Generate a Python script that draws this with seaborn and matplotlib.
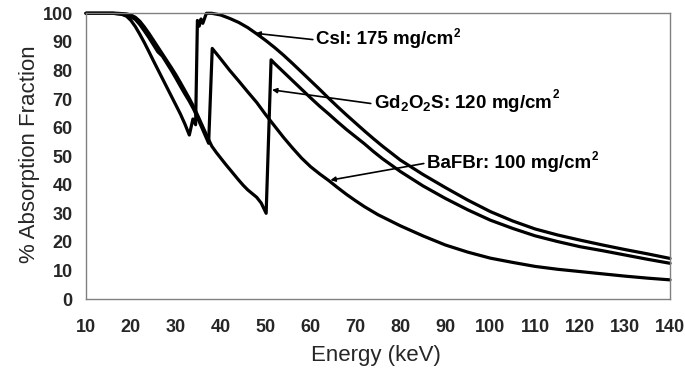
import matplotlib
matplotlib.use("Agg")
import matplotlib.pyplot as plt
import seaborn as sns
import pandas as pd

# ---------------- data ----------------
csi_energy = [10, 16, 18, 19, 20, 21, 22, 23, 24, 25, 26, 27, 28, 29, 30, 31, 32, 33.0,
              33.8, 34.4, 34.8, 35.2, 35.6, 36.0, 36.8, 38, 40, 42, 44, 46, 48, 50, 52, 54,
              56, 58, 60, 62, 64, 66, 68, 70, 72, 74, 76, 80, 85, 90, 95, 100, 105, 110,
              115, 120, 125, 130, 135, 140]
csi_value = [100, 100, 99.6, 99, 97.5, 95.3, 92.6, 89.7, 86.6, 83.4, 80.3, 77.2, 74.1, 71,
             67.9, 64.8, 61.3, 57.4,
             63, 61, 97.5, 95.5, 98, 96.5, 100, 100, 99.4, 98.2, 96.8, 95, 92.8, 90.5, 88,
             85.3, 82.4, 79.4, 76.4, 73.4, 70.3, 67.3, 64.4, 61.6, 58.8, 56.1, 53.5, 48.6,
             43.6, 39, 34.6, 30.6, 27.3, 24.5, 22.4, 20.6, 18.9, 17.3, 15.8, 14.2]

gd_energy = [10, 17, 19, 20, 21, 22, 23, 24, 25, 26, 27, 28, 29, 30, 31, 32, 33, 34, 35,
             36, 37, 38, 39, 40, 41, 42, 43, 44, 45, 46, 47, 48, 49, 50.1,
             51.2, 52, 54, 56, 58, 60, 62, 64, 66, 68, 70, 72, 74, 76, 80, 85, 90, 95,
             100, 105, 110, 115, 120, 125, 130, 135, 140]
gd_value = [100, 100, 99.8, 99.4, 98.6, 97.2, 95.2, 93, 90.6, 88.2, 85.8, 83.4, 81, 78.5,
            75.8, 73, 70.2, 67.2, 63.8, 60.3, 56.8, 53.5, 51.3, 49.3, 47.3, 45.4, 43.5,
            41.6, 39.8, 38.2, 36.9, 35.6, 33.6, 30,
            83.7, 82.4, 79.4, 76.4, 73.4, 70.4, 67.5, 64.8, 62, 59.3, 56.8, 54.3, 51.6,
            49.1, 44.6, 39.6, 35.2, 31.2, 27.6, 24.7, 22.1, 20.1, 18.3, 16.9, 15.4, 13.9,
            12.5]

bafbr_energy = [10, 16, 18, 20, 21, 22, 23, 24, 25, 26, 27, 28, 29, 30, 31, 32, 33, 34,
                35, 36, 37.3,
                38.1, 40, 42, 44, 46, 48, 50, 52, 54, 56, 58, 60, 62, 64, 66, 68, 70, 72,
                75, 80, 85, 90, 95, 100, 105, 110, 115, 120, 125, 130, 135, 140]
bafbr_value = [100, 100, 99.8, 98.8, 97.8, 96, 93.8, 91.5, 89, 86.5, 85, 82.5, 80, 77.3,
               74.5, 71.8, 69.2, 66.3, 62.8, 59.2, 54.5,
               87.7, 84, 80, 76.3, 72.5, 68.8, 64.5, 60.5, 56.5, 52.8, 49.3, 46.3, 43.8,
               41.5, 39, 36.6, 34.4, 32.3, 29.5, 25.6, 22.1, 18.9, 16.4, 14.3, 12.8, 11.4,
               10.4, 9.6, 8.8, 8.0, 7.3, 6.7]

series_names = ["CsI", "Gd2O2S", "BaFBr"]
label_texts = ["CsI: 175 mg/cm",
               r"Gd$_{\mathbf{2}}$O$_{\mathbf{2}}$S: 120 mg/cm",
               "BaFBr: 100 mg/cm"]
label_sup = ["2", "2", "2"]
x_ticks = list(range(10, 141, 10))
y_ticks = list(range(0, 101, 10))

# ---------------- style ----------------
sns.set_style("white")
plt.rcParams["font.family"] = ["Liberation Sans", "DejaVu Sans"]
plt.rcParams["mathtext.fontset"] = "custom"
plt.rcParams["mathtext.rm"] = "Liberation Sans:bold"
plt.rcParams["mathtext.bf"] = "Liberation Sans:bold"
plt.rcParams["mathtext.it"] = "Liberation Sans:bold"

frames = []
for name, e, v in zip(series_names, [csi_energy, gd_energy, bafbr_energy],
                      [csi_value, gd_value, bafbr_value]):
    frames.append(pd.DataFrame({"Energy": e, "Value": v, "Series": name}))
df = pd.concat(frames, ignore_index=True)

fig = plt.figure(figsize=(6.85, 3.75), dpi=100)
ax = fig.add_axes([86 / 685, 1 - 299 / 375, (670 - 86) / 685, (299 - 13.3) / 375])

sns.lineplot(data=df, x="Energy", y="Value", hue="Series", units="Series",
             estimator=None, sort=False, palette=["black"] * 3, linewidth=2.3,
             legend=False, ax=ax, clip_on=False)

ax.set_xlabel("")
ax.set_ylabel("")
ax.set_xlim(10, 140)
ax.set_ylim(0, 100)
ax.set_xticks(x_ticks)
ax.set_yticks(y_ticks)
ax.set_xticklabels([str(t) for t in x_ticks], fontweight="bold", fontsize=13)
ax.set_yticklabels([str(t) for t in y_ticks], fontweight="bold", fontsize=13)
for s in ax.spines.values():
    s.set_color("#808080")
    s.set_linewidth(1.0)
    s.set_visible(True)
ax.tick_params(axis="both", which="major", direction="out", length=3.5, width=1,
               color="#808080")
ax.tick_params(axis="x", pad=11)
ax.tick_params(axis="y", pad=6)

fig.text(376 / 685, 1 - 356 / 375, "Energy (keV)", ha="center", va="center",
         fontsize=16)
fig.text(29.5 / 685, 1 - 154 / 375, "% Absorption Fraction", ha="center",
         va="center", rotation=90, fontsize=16)

# annotations (text position, arrow tip) in data coordinates
text_pos = [(61.1, 90.7), (74.0, 68.3), (85.8, 47.6)]
tip_pos = [(47.7, 93.0), (51.4, 73.2), (64.4, 41.6)]
sup_offset = [2.4, 3.0, 2.4]
for lab, sup, tp, xy, so in zip(label_texts, label_sup, text_pos, tip_pos, sup_offset):
    t = ax.text(tp[0], tp[1], lab, ha="left", va="center", fontsize=13.5,
                fontweight="bold", color="black")
    ax.annotate("", xy=xy, xycoords="data", xytext=(0, 0.5), textcoords=t,
                arrowprops=dict(arrowstyle="-|>", color="black", lw=1.2,
                                mutation_scale=7, shrinkA=2, shrinkB=0))
    ax.annotate(sup, xy=(1, 1), xycoords=t, xytext=(0.6, so),
                textcoords="offset points", ha="left", va="top", fontsize=8.5,
                fontweight="bold", color="black")

fig.savefig("out.png", dpi=100)
